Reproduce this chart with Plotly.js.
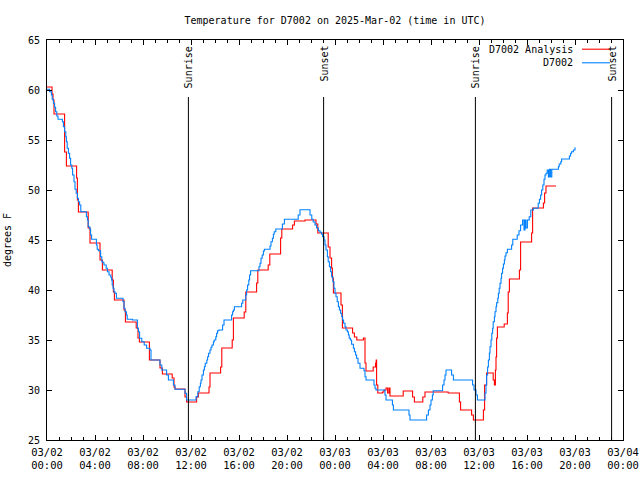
<!DOCTYPE html>
<html>
<head>
<meta charset="utf-8">
<script src="https://cdn.plot.ly/plotly-3.0.1.min.js"></script>
<style>html,body{margin:0;padding:0;background:#fff;}#chart{width:640px;height:480px;}</style>
</head>
<body>
<div id="chart"></div>
<script>
// Hours after 2025-03-02 00:00 UTC and temperatures (deg F)
const redHours = [0.00,0.42,0.50,0.58,1.47,1.61,2.47,2.53,2.61,3.44,3.58,4.42,4.61,5.44,5.53,5.61,6.42,6.53,7.44,7.58,7.70,8.53,9.42,9.61,10.44,10.58,10.67,11.50,11.64,12.47,12.61,13.50,13.58,14.47,14.56,15.44,15.53,16.44,16.56,17.47,17.56,18.44,18.56,19.47,19.56,20.47,20.61,21.50,22.42,22.56,23.44,23.58,23.72,23.78,23.86,24.50,24.61,25.47,25.61,25.81,26.36,26.50,26.58,27.19,27.39,27.44,27.47,27.56,27.97,28.08,28.25,28.39,28.50,28.58,29.69,30.47,30.61,31.31,31.50,33.44,34.36,34.47,35.39,35.53,36.36,36.47,36.64,37.19,37.28,37.36,37.42,37.47,37.53,38.10,38.36,38.44,38.53,39.36,39.47,40.39,40.47,41.36,41.47,41.58,42.42];
const redTemps = [60.3,59.6,59.0,57.6,53.8,52.4,51.2,49.0,47.8,46.2,44.7,43.0,42.0,41.0,39.8,39.0,38.0,36.8,36.2,35.2,34.8,33.0,32.2,31.6,31.2,30.3,30.1,29.3,28.8,29.3,29.7,30.3,31.7,32.3,34.2,35.0,37.2,37.8,39.8,40.7,42.0,42.5,43.6,45.2,46.1,46.5,46.9,47.0,46.6,45.7,44.3,43.2,42.2,41.2,39.7,38.5,36.2,35.7,35.3,35.0,35.2,32.7,31.9,32.3,32.7,33.0,30.5,29.7,29.8,30.0,30.2,29.7,30.2,29.4,29.9,29.3,28.8,29.3,29.8,29.7,28.8,28.0,27.5,27.0,28.0,30.5,31.7,31.0,30.5,32.0,33.3,35.2,36.3,36.6,37.7,39.8,41.1,42.0,44.8,45.7,48.2,48.7,49.7,50.4,50.4];

const blueHours = [0.00,0.22,0.36,0.44,0.53,0.64,0.72,0.81,0.92,1.28,1.36,1.47,1.56,1.61,1.69,1.78,1.89,1.97,2.06,2.14,2.25,2.33,2.44,2.53,2.61,2.72,2.81,3.28,3.36,3.44,3.56,3.64,3.72,4.11,4.19,4.28,4.47,4.56,4.67,4.75,4.94,5.03,5.17,5.31,5.39,5.44,5.50,5.58,5.67,5.78,6.33,6.42,6.50,6.61,6.69,7.11,7.53,7.61,7.72,7.90,8.10,8.30,8.58,8.67,9.42,9.56,9.97,10.11,10.53,10.67,11.50,11.64,12.42,12.56,12.69,12.78,12.83,12.92,13.03,13.11,13.19,13.31,13.39,13.47,13.58,13.67,13.75,13.86,13.94,14.06,14.14,14.22,14.31,14.64,14.75,15.39,15.47,15.53,15.61,16.22,16.31,16.56,16.64,16.72,16.81,16.89,16.97,17.67,17.75,17.83,17.94,18.03,18.11,18.58,18.67,18.78,18.86,18.94,19.06,19.61,19.78,20.94,21.08,21.92,22.06,22.19,22.33,22.47,22.61,22.75,22.89,22.97,23.08,23.17,23.25,23.36,23.44,23.53,23.64,23.72,23.81,23.92,24.00,24.08,24.19,24.28,24.36,24.47,24.56,24.64,24.72,24.83,24.92,25.03,25.11,25.19,25.28,25.39,25.53,25.62,25.72,25.80,25.92,26.08,26.42,26.50,26.58,27.25,27.33,27.42,28.17,28.25,28.78,28.86,30.17,30.25,31.64,31.78,31.92,32.00,32.11,32.19,32.97,33.08,33.17,33.25,33.72,33.86,35.47,35.58,35.75,35.86,36.50,36.58,36.64,36.72,36.78,36.86,36.92,37.00,37.06,37.14,37.19,37.28,37.33,37.42,37.47,37.56,37.61,37.69,37.75,37.83,37.89,37.97,38.03,38.11,38.17,38.25,38.36,38.72,38.81,39.19,39.33,39.47,39.64,39.75,39.83,39.92,40.03,40.19,40.31,40.53,40.94,41.03,41.14,41.22,41.31,41.42,41.50,41.58,41.69,41.78,41.86,41.97,42.06,42.61,42.69,42.81,42.89,43.53,43.64,43.72,43.86,44.00];
const blueTemps = [60.07,59.83,59.5,59.07,58.67,58.27,57.83,57.4,57.07,56.83,56.33,55.83,55.33,54.83,54.17,53.67,53.17,52.5,52.17,51.5,50.83,50.07,49.67,49.17,48.83,48.5,47.83,47.33,47.0,46.33,46.1,45.5,45.07,44.5,44.07,43.93,43.33,42.83,42.73,42.5,42.17,41.83,41.5,41.27,41.0,40.5,40.17,39.83,39.67,39.17,38.83,38.17,37.83,37.5,37.07,37.0,36.17,35.83,35.17,34.83,34.5,34.17,34.0,33.0,32.5,32.0,31.5,31.0,30.5,30.07,29.67,29.0,29.33,29.83,30.33,30.67,31.0,31.5,32.0,32.33,32.67,33.0,33.33,33.67,34.0,34.27,34.5,34.83,35.0,35.33,35.67,35.93,36.0,36.5,37.0,37.5,37.83,38.0,38.33,38.67,39.0,39.5,40.0,40.5,41.0,41.5,41.93,42.33,42.67,43.17,43.5,43.9,44.07,44.4,44.83,45.17,45.57,45.83,46.1,46.6,47.07,47.5,48.03,47.5,47.07,46.8,46.5,46.2,45.93,45.77,45.57,45.33,45.0,44.5,44.0,43.33,42.83,42.33,41.83,41.33,40.83,40.17,39.67,39.33,38.83,38.33,38.0,37.67,37.33,37.0,36.67,36.33,36.0,35.83,35.5,35.17,35.0,34.57,34.17,33.83,33.5,33.17,32.67,32.17,31.93,31.33,31.0,30.5,30.17,30.0,29.5,29.0,28.5,28.0,27.5,27.0,27.5,28.0,28.5,29.0,29.5,29.93,30.5,31.0,31.5,32.0,31.5,31.0,30.5,30.0,29.5,29.0,29.7,30.5,31.5,32.3,33.0,33.7,34.33,35.0,35.67,36.17,36.83,37.33,37.83,38.33,38.73,39.17,39.67,40.17,40.67,41.17,41.67,42.17,42.6,43.0,43.4,43.73,44.07,44.5,45.07,45.5,45.93,46.5,47.0,46.0,47.0,46.2,47.0,47.33,48.0,48.17,48.67,49.07,49.5,50.0,50.5,51.07,51.5,51.67,52.0,51.3,52.07,51.3,52.07,52.33,52.6,52.83,53.1,53.4,53.67,53.83,54.0,54.27];

const sunHours = [11.78, 23.05, 35.70, 47.05];
const sunLabels = ['Sunrise', 'Sunset', 'Sunrise', 'Sunset'];
const seriesNames = ['D7002 Analysis', 'D7002'];
const seriesColors = ['#ff0000', '#0080ff'];
const titleText = 'Temperature for D7002 on 2025-Mar-02 (time in UTC)';
const yTitle = 'degrees F';

function toTime(h) {
  const ms = Date.UTC(2025, 2, 2) + Math.round(h * 60) * 60000;
  return new Date(ms).toISOString().slice(0, 19).replace('T', ' ');
}

const FONT = 'DejaVu Sans Mono, monospace';

const traces = [
  {x: redHours.map(toTime), y: redTemps, type: 'scatter', mode: 'lines', name: seriesNames[0],
   line: {color: seriesColors[0], width: 1.1, shape: 'hv'}},
  {x: blueHours.map(toTime), y: blueTemps, type: 'scatter', mode: 'lines', name: seriesNames[1],
   line: {color: seriesColors[1], width: 1.1, shape: 'hv'}}
];

const shapes = [];
const annotations = [];
sunHours.forEach((h, i) => {
  shapes.push({type: 'line', xref: 'x', yref: 'paper', x0: toTime(h), x1: toTime(h), y0: 0, y1: 0.8575,
    line: {color: '#000', width: 1}});
  annotations.push({xref: 'x', yref: 'paper', x: toTime(h), y: 1, yshift: -4, xanchor: 'center', yanchor: 'top',
    text: sunLabels[i], textangle: -90, showarrow: false, font: {family: FONT, size: 10, color: '#000'}});
});
// legend (gnuplot style: text then line sample)
const legY = [0.977, 0.943];
seriesNames.forEach((n, i) => {
  annotations.push({xref: 'paper', yref: 'paper', x: 0.9167, y: legY[i], xanchor: 'right', yanchor: 'middle',
    text: n, showarrow: false, font: {family: FONT, size: 10, color: '#000'}});
  shapes.push({type: 'line', xref: 'paper', yref: 'paper', x0: 0.9288, x1: 0.9774, y0: legY[i], y1: legY[i],
    line: {color: seriesColors[i], width: 1.1}});
});

const layout = {
  width: 640, height: 480,
  margin: {l: 47, r: 17, t: 40, b: 40},
  paper_bgcolor: '#fff', plot_bgcolor: '#fff',
  showlegend: false,
  font: {family: FONT, size: 10, color: '#000'},
  title: {text: titleText, x: 0.5, xref: 'paper', xanchor: 'center', y: 0.958, yanchor: 'middle', yref: 'container',
    font: {family: FONT, size: 10, color: '#000'}},
  xaxis: {
    type: 'date', range: [toTime(0), toTime(48)],
    tick0: toTime(0), dtick: 4 * 3600000, tickformat: '%m/%d<br>%H:%M',
    ticks: 'inside', ticklen: 5, tickcolor: '#000', tickwidth: 1,
    showline: true, linecolor: '#000', linewidth: 1, mirror: 'allticks',
    showgrid: false, zeroline: false, ticklabelstandoff: 2,
    minor: {dtick: 3600000, ticks: 'inside', ticklen: 3, tickcolor: '#000', showgrid: false},
    tickfont: {family: FONT, size: 10.5, color: '#000'}
  },
  yaxis: {
    range: [25, 65], dtick: 5, tick0: 25,
    ticks: 'inside', ticklen: 5, tickcolor: '#000', tickwidth: 1,
    showline: true, linecolor: '#000', linewidth: 1, mirror: 'allticks',
    showgrid: false, zeroline: false, ticklabelstandoff: 4,
    tickfont: {family: FONT, size: 10, color: '#000'},
    title: {text: yTitle, font: {family: FONT, size: 10, color: '#000'}, standoff: 14}
  },
  shapes: shapes,
  annotations: annotations
};

Plotly.newPlot('chart', traces, layout, {staticPlot: true, displayModeBar: false});
</script>
</body>
</html>
